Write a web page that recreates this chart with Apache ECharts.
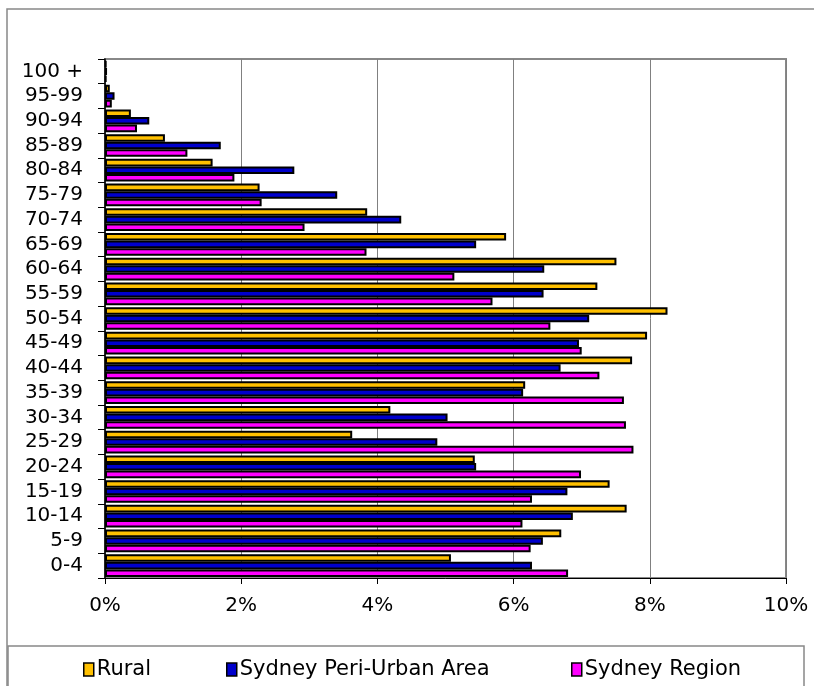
<!DOCTYPE html>
<html>
<head>
<meta charset="utf-8">
<script src="https://cdn.jsdelivr.net/npm/echarts@6/dist/echarts.min.js"></script>
<style>html,body{margin:0;padding:0;background:#fff;}#c{width:814px;height:686px;}</style>
</head>
<body>
<div id="c"></div>
<script>
const categories = ['0-4','5-9','10-14','15-19','20-24','25-29','30-34','35-39','40-44','45-49','50-54','55-59','60-64','65-69','70-74','75-79','80-84','85-89','90-94','95-99','100 +'];
const rural =     [5.08, 6.70, 7.66, 7.41, 5.43, 3.63, 4.19, 6.17, 7.74, 7.96, 8.26, 7.23, 7.51, 5.89, 3.85, 2.27, 1.58, 0.88, 0.38, 0.07, 0.02];
const periUrban = [6.27, 6.43, 6.87, 6.79, 5.45, 4.88, 5.03, 6.14, 6.69, 6.96, 7.11, 6.44, 6.45, 5.45, 4.35, 3.41, 2.78, 1.70, 0.65, 0.14, 0.03];
const sydney =    [6.80, 6.25, 6.13, 6.27, 6.99, 7.76, 7.65, 7.62, 7.26, 7.00, 6.54, 5.69, 5.13, 3.84, 2.93, 2.30, 1.90, 1.21, 0.47, 0.10, 0.02];
const xTicks = [0, 2, 4, 6, 8, 10];
const seriesNames = ['Rural', 'Sydney Peri-Urban Area', 'Sydney Region'];
const colors = ['#FFC000', '#0000CC', '#FF00FF'];

const FONT = 'DejaVu Sans';
const chart = echarts.init(document.getElementById('c'), null, {renderer: 'canvas'});
const dataSets = [rural, periUrban, sydney];
const legendLefts = [78, 221, 566];

chart.setOption({
  animation: false,
  backgroundColor: '#fff',
  textStyle: {fontFamily: FONT},
  grid: {left: 105, right: 28, top: 59, bottom: 108, show: true, borderColor: '#888', borderWidth: 2, backgroundColor: 'transparent'},
  xAxis: {
    type: 'value', min: xTicks[0], max: xTicks[xTicks.length - 1], interval: 2,
    axisLine: {show: true, lineStyle: {color: '#000', width: 1}},
    axisTick: {show: true, length: 6, lineStyle: {color: '#000'}},
    splitLine: {show: true, lineStyle: {color: '#808080', width: 1}},
    axisLabel: {formatter: '{value}%', fontFamily: FONT, fontSize: 20, color: '#000', margin: 18}
  },
  yAxis: {
    type: 'category', data: categories,
    axisLine: {show: true, lineStyle: {color: '#000', width: 1.5}},
    axisTick: {show: true, length: 7, lineStyle: {color: '#000'}},
    axisLabel: {fontFamily: FONT, fontSize: 20, color: '#000', margin: 22, interval: 0}
  },
  legend: seriesNames.map((n, i) => ({
    data: [n], left: legendLefts[i], top: 654, icon: 'rect', itemWidth: 10, itemHeight: 13, itemGap: 0,
    textStyle: {fontFamily: FONT, fontSize: 21, color: '#000', padding: [0, 0, 0, -2]},
    itemStyle: {borderColor: '#000', borderWidth: 1.5}
  })),
  graphic: [
    {type: 'rect', shape: {x: 7, y: 9, width: 900, height: 800}, style: {fill: 'none', stroke: '#888', lineWidth: 1.5}, silent: true, z: -1},
    {type: 'rect', shape: {x: 8, y: 646, width: 796, height: 80}, style: {fill: 'none', stroke: '#888', lineWidth: 1.5}, silent: true}
  ],
  series: seriesNames.map((n, i) => ({
    name: n, type: 'bar', data: dataSets[i],
    barGap: '0%', barCategoryGap: '8%',
    itemStyle: {color: colors[i], borderColor: '#000', borderWidth: 2}
  }))
});
</script>
</body>
</html>
